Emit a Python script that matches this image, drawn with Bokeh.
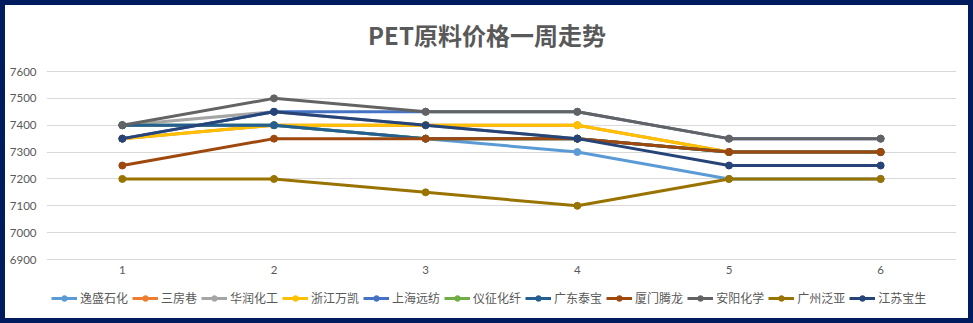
from bokeh.plotting import figure
from bokeh.models import Legend, LegendItem, FactorRange, Range1d, FixedTicker, Label
from bokeh.embed import file_html
from bokeh.resources import INLINE

title_text = "PET原料价格一周走势"
days = ["1", "2", "3", "4", "5", "6"]
names = ["逸盛石化", "三房巷", "华润化工", "浙江万凯", "上海远纺", "仪征化纤",
         "广东泰宝", "厦门腾龙", "安阳化学", "广州泛亚", "江苏宝生"]
colors = ["#5B9BD5", "#ED7D31", "#A5A5A5", "#FFC000", "#4472C4", "#70AD47",
          "#255E91", "#9E480E", "#636363", "#997300", "#264478"]
yisheng = [7400, 7400, 7350, 7300, 7200, 7200]
sanfangxiang = [7350, 7400, 7400, 7400, 7300, 7300]
huarun = [7400, 7450, 7400, 7350, 7300, 7300]
wankai = [7350, 7400, 7400, 7400, 7300, 7300]
yuanfang = [7350, 7450, 7450, 7450, 7350, 7350]
yizheng = [7400, 7400, 7350, 7350, 7300, 7300]
taibao = [7400, 7400, 7350, 7350, 7300, 7300]
tenglong = [7250, 7350, 7350, 7350, 7300, 7300]
anyang = [7400, 7500, 7450, 7450, 7350, 7350]
fanya = [7200, 7200, 7150, 7100, 7200, 7200]
baosheng = [7350, 7450, 7400, 7350, 7250, 7250]
series = [yisheng, sanfangxiang, huarun, wankai, yuanfang, yizheng,
          taibao, tenglong, anyang, fanya, baosheng]
y_ticks = [6900, 7000, 7100, 7200, 7300, 7400, 7500, 7600]
y_min, y_max = 6900, 7600

# layout in pixels (canvas coordinates)
W, H = 973, 323
frame_left, frame_right = 41, 951
band_px = 188          # height of the 6900..7600 band
top_px = 66            # space above the band (title area)
bottom_px = 59         # space below the band (axis labels + legend)
upp = (y_max - y_min) / band_px   # value units per pixel
y_top = y_max + top_px * upp
y_low = y_min - bottom_px * upp

p = figure(width=W, height=H, output_backend="svg", toolbar_location=None,
           x_range=FactorRange(*days, range_padding=0), y_range=Range1d(y_low, y_top),
           min_border_left=frame_left, min_border_right=W - frame_right,
           min_border_top=0, min_border_bottom=10)
p.styles = {"border": "5px solid #001B5E"}
p.outline_line_color = None
p.background_fill_color = "white"
p.border_fill_color = "white"

# title, centred on the whole chart
title_cx = 481.5
title_cy = 28.5
p.add_layout(Label(x=(title_cx - frame_left) / ((frame_right - frame_left) / len(days)),
                   y=y_top - title_cy * upp, text=title_text,
                   text_align="center", text_baseline="middle",
                   text_font="Noto Sans CJK SC", text_font_size="24px",
                   text_font_style="bold", text_color="#595959"))

p.xgrid.grid_line_color = None
p.ygrid.grid_line_color = "#D9D9D9"
p.ygrid.grid_line_width = 1
p.yaxis.ticker = FixedTicker(ticks=y_ticks)
p.xaxis.fixed_location = y_min
for ax in (p.xaxis[0], p.yaxis[0]):
    ax.axis_line_color = None
    ax.major_tick_line_color = None
    ax.minor_tick_line_color = None
    ax.major_tick_out = 0
    ax.major_tick_in = 0
    ax.minor_tick_out = 0
    ax.major_label_text_color = "#595959"
    ax.major_label_text_font = "Lato"
    ax.major_label_text_font_size = "11.5px"
p.yaxis.major_label_standoff = 10
p.xaxis.major_label_standoff = 6

items = []
for name, col, vals in zip(names, colors, series):
    r1 = p.line(days, vals, line_color=col, line_width=3)
    r2 = p.scatter(days, vals, size=7, fill_color=col, line_color=col)
    items.append(LegendItem(label=name, renderers=[r1, r2]))

legend = Legend(items=items, orientation="horizontal", location=(5, 12),
                glyph_width=26, glyph_height=14, label_standoff=3, spacing=4,
                margin=0, padding=4, border_line_color=None, background_fill_alpha=0,
                label_text_font="Noto Sans CJK SC", label_text_font_size="12px",
                label_text_color="#595959")
p.add_layout(legend, "center")

open("out.html", "w").write(file_html(p, INLINE))
